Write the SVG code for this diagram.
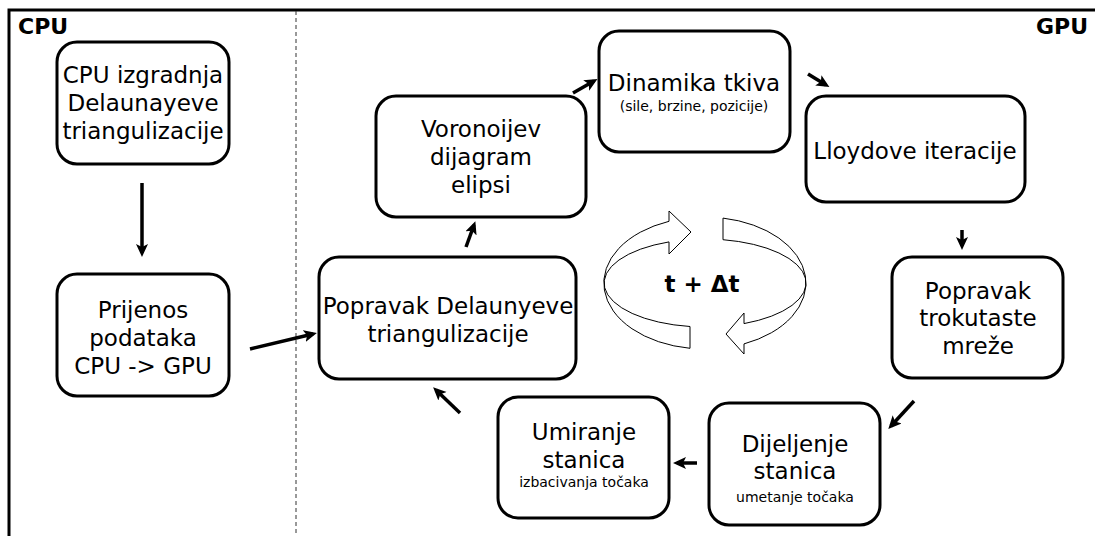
<svg xmlns="http://www.w3.org/2000/svg" width="1095" height="536" viewBox="0 0 1095 536">
<style>
.box{fill:#fff;stroke:#000;stroke-width:3}
.t{font-family:"DejaVu Sans",Verdana,sans-serif;font-size:23px;fill:#000;text-anchor:middle}
.s{font-family:"DejaVu Sans",Verdana,sans-serif;font-size:14px;fill:#000;text-anchor:middle}
.lbl{font-family:"DejaVu Sans",Verdana,sans-serif;font-size:22px;font-weight:bold;fill:#000}
.c{stroke:#000;stroke-width:3.5;fill:none;marker-end:url(#ah)}
.ring{fill:#fff;stroke:#000;stroke-width:1}
</style>
<defs>
<marker id="ah" markerUnits="userSpaceOnUse" markerWidth="14" markerHeight="13" refX="9" refY="6" orient="auto">
<path d="M0,0 L13,6 L0,12 L3,6 z" fill="#000"/>
</marker>
</defs>
<rect width="1095" height="536" fill="#fff"/>
<g id="frame">
<path d="M9,536 L9,10 L1095,10" fill="none" stroke="#000" stroke-width="3"/>
<line x1="296" y1="11" x2="296" y2="536" stroke="#333" stroke-width="1" stroke-dasharray="4,3"/>
<text class="lbl" x="18" y="34">CPU</text>
<text class="lbl" x="1088" y="34" text-anchor="end">GPU</text>
</g>
<g id="n1">
<rect class="box" x="57" y="42" width="172" height="122" rx="20"/>
<text class="t" x="143" y="83">CPU izgradnja</text>
<text class="t" x="143" y="111">Delaunayeve</text>
<text class="t" x="143" y="139">triangulizacije</text>
</g>
<g id="n2">
<rect class="box" x="57" y="274" width="172" height="122" rx="20"/>
<text class="t" x="143" y="318">Prijenos</text>
<text class="t" x="143" y="346">podataka</text>
<text class="t" x="143" y="374">CPU -&gt; GPU</text>
</g>
<g id="n3">
<rect class="box" x="319" y="257" width="257" height="122" rx="20"/>
<text class="t" x="448" y="314">Popravak Delaunyeve</text>
<text class="t" x="448" y="342">triangulizacije</text>
</g>
<g id="n4">
<rect class="box" x="376" y="96" width="210" height="121" rx="20"/>
<text class="t" x="481" y="137">Voronoijev</text>
<text class="t" x="481" y="165">dijagram</text>
<text class="t" x="481" y="193">elipsi</text>
</g>
<g id="n5">
<rect class="box" x="599" y="31" width="191" height="121" rx="20"/>
<text class="t" x="694" y="91">Dinamika tkiva</text>
<text class="s" x="694" y="111">(sile, brzine, pozicije)</text>
</g>
<g id="n6">
<rect class="box" x="806" y="96" width="219" height="106" rx="20"/>
<text class="t" x="915" y="159">Lloydove iteracije</text>
</g>
<g id="n7">
<rect class="box" x="892" y="257" width="171" height="121" rx="20"/>
<text class="t" x="978" y="299">Popravak</text>
<text class="t" x="978" y="326">trokutaste</text>
<text class="t" x="978" y="354">mreže</text>
</g>
<g id="n8">
<rect class="box" x="709" y="403" width="171" height="122" rx="20"/>
<text class="t" x="795" y="452">Dijeljenje</text>
<text class="t" x="795" y="479">stanica</text>
<text class="s" x="795" y="502">umetanje točaka</text>
</g>
<g id="n9">
<rect class="box" x="498" y="397" width="171" height="121" rx="20"/>
<text class="t" x="584" y="440">Umiranje</text>
<text class="t" x="584" y="468">stanica</text>
<text class="s" x="584" y="487">izbacivanja točaka</text>
</g>
<g id="cycle">
<path class="ring" d="M690,326.5 A101 44 0 0 1 669,241.9 L669,254 L691,232 L669,211 L669,221.3 A101 66 0 0 0 690,348.3 Z"/>
<path class="ring" d="M723,218.1 A101 66 0 0 1 744,343.9 L744,354 L726,334 L744,313 L744,323.6 A101 44 0 0 0 723,239.7 Z"/>
<text class="lbl" x="702" y="292" text-anchor="middle" style="font-size:23px">t + Δt</text>
</g>
<g id="connectors">
<line class="c" x1="142" y1="183" x2="142" y2="253"/>
<line class="c" x1="250" y1="349" x2="313" y2="334"/>
<line class="c" x1="466" y1="247" x2="474" y2="225"/>
<line class="c" x1="573" y1="93" x2="594" y2="81"/>
<line class="c" x1="808" y1="74" x2="826" y2="85"/>
<line class="c" x1="962" y1="230" x2="962" y2="246"/>
<line class="c" x1="914" y1="401" x2="891" y2="426"/>
<line class="c" x1="697" y1="463" x2="677" y2="463"/>
<line class="c" x1="460" y1="413" x2="436" y2="390"/>
</g>
</svg>
